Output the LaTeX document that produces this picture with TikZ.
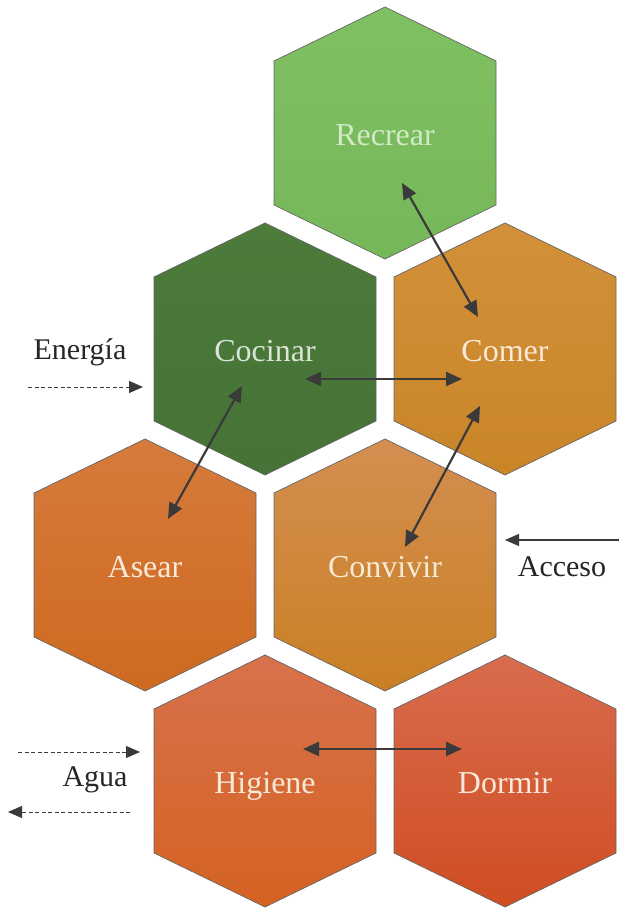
\documentclass[tikz,border=0pt]{standalone}
\usepackage{fontspec}
\setmainfont{Liberation Serif}
\usetikzlibrary{positioning,arrows.meta,backgrounds}

\definecolor{recrearA}{HTML}{7EC062}
\definecolor{recrearB}{HTML}{76B859}
\definecolor{cocinarA}{HTML}{4C7B3A}
\definecolor{cocinarB}{HTML}{467336}
\definecolor{comerA}{HTML}{D2903A}
\definecolor{comerB}{HTML}{C98526}
\definecolor{asearA}{HTML}{D67A3C}
\definecolor{asearB}{HTML}{CE6A20}
\definecolor{convivirA}{HTML}{D48E50}
\definecolor{convivirB}{HTML}{C98024}
\definecolor{higieneA}{HTML}{D8714C}
\definecolor{higieneB}{HTML}{D46222}
\definecolor{dormirA}{HTML}{D86C4E}
\definecolor{dormirB}{HTML}{D04D22}
\definecolor{linkgray}{HTML}{3A3A3A}
\definecolor{paletext}{HTML}{F8EAD6}

\newcommand\hexcell[3]{\path[cellline,top color=#2,bottom color=#3] (#1.center) ++(0,126) -- ++(111,-54) -- ++(0,-144) -- ++(-111,-54) -- ++(-111,54) -- ++(0,144) -- cycle;}

\begin{document}
\begin{tikzpicture}[
  x=1pt, y=1pt, on grid,
  cell/.style={inner sep=0pt, text height=26pt, text depth=0pt, text=paletext, font=\fontsize{32}{36}\selectfont},
  cellline/.style={draw=black!60, line width=0.7pt},
  side/.style={inner sep=0pt, text=black!85, font=\fontsize{30}{34}\selectfont},
  link/.style={{Triangle[length=16pt,width=14pt]}-{Triangle[length=16pt,width=14pt]}, line width=2.2pt, draw=linkgray},
  flow/.style={-{Triangle[length=14pt,width=12pt]}, line width=0.9pt, draw=linkgray, dash pattern=on 4pt off 2.5pt},
  feed/.style={-{Triangle[length=14pt,width=12pt]}, line width=1.2pt, draw=linkgray}
]
\useasboundingbox (0,0) rectangle (619,912);

\node[cell, text=recrearA!35!white] (recrear) at (385,779) {Recrear};
\node[cell, text=cocinarA!20!white, below left=216pt and 120pt of recrear] (cocinar) {Cocinar};
\node[cell, right=240pt of cocinar] (comer) {Comer};
\node[cell, below left=216pt and 120pt of cocinar] (asear) {Asear};
\node[cell, right=240pt of asear] (convivir) {Convivir};
\node[cell, below right=216pt and 120pt of asear] (higiene) {Higiene};
\node[cell, right=240pt of higiene] (dormir) {Dormir};

\begin{scope}[on background layer]
\hexcell{recrear}{recrearA}{recrearB}
\hexcell{cocinar}{cocinarA}{cocinarB}
\hexcell{comer}{comerA}{comerB}
\hexcell{asear}{asearA}{asearB}
\hexcell{convivir}{convivirA}{convivirB}
\hexcell{higiene}{higieneA}{higieneB}
\hexcell{dormir}{dormirA}{dormirB}
\end{scope}

\node[side] (energia) at (80,560) {Energía};
\node[side] (acceso) at (562,345) {Acceso};
\node[side] (agua) at (95,132) {Agua};
\coordinate (energiaA) at (28,525);
\coordinate (energiaB) at (143,525);
\coordinate (accesoA) at (619,372);
\coordinate (accesoB) at (505,372);
\coordinate (aguaA) at (18,160);
\coordinate (aguaB) at (140,160);
\coordinate (aguaC) at (130,100);
\coordinate (aguaD) at (8,100);

\draw[link] ([shift={(17,-50)}]recrear.center) -- ([shift={(-27,32)}]comer.center);
\draw[link] ([shift={(40,-30)}]cocinar.center) -- ([shift={(-43,-30)}]comer.center);
\draw[link] ([shift={(-23,-37)}]cocinar.center) -- ([shift={(23,46)}]asear.center);
\draw[link] ([shift={(-25,-57)}]comer.center) -- ([shift={(20,18)}]convivir.center);
\draw[link] ([shift={(38,32)}]higiene.center) -- ([shift={(-43,32)}]dormir.center);

\draw[flow] (energiaA) -- (energiaB);
\draw[feed] (accesoA) -- (accesoB);
\draw[flow] (aguaA) -- (aguaB);
\draw[flow] (aguaC) -- (aguaD);
\end{tikzpicture}
\end{document}
